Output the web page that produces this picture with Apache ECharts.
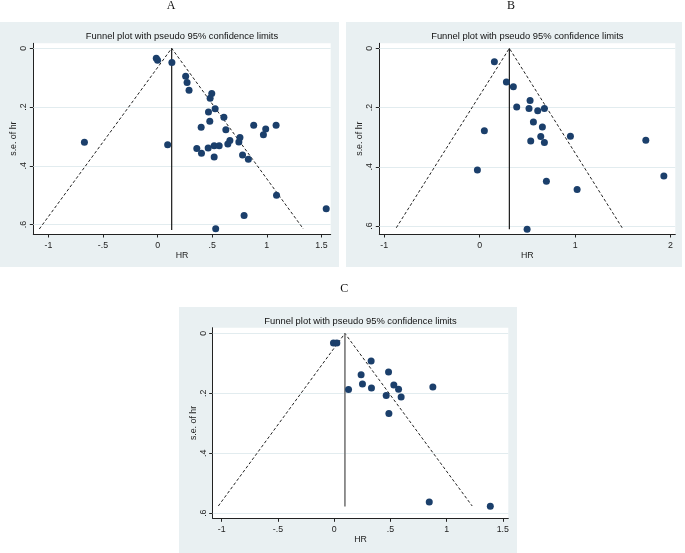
<!DOCTYPE html>
<html>
<head>
<meta charset="utf-8">
<script src="https://cdn.jsdelivr.net/npm/echarts@6/dist/echarts.min.js"></script>
<style>
  html, body { margin: 0; padding: 0; background: #ffffff; }
  #wrap { position: relative; width: 685px; height: 553px; overflow: hidden; }
  .panel { position: absolute; background: #e9f0f2; }
  #chart { position: absolute; left: 0; top: 0; width: 685px; height: 553px; }
</style>
</head>
<body>
<div id="wrap">
  <div class="panel" style="left:0px;top:22px;width:339px;height:245px;"></div>
  <div class="panel" style="left:346px;top:22px;width:336px;height:245px;"></div>
  <div class="panel" style="left:179px;top:307px;width:338px;height:246px;"></div>
  <div id="chart"></div>
</div>
<script>
// ---------- data ----------
const panelLabels = ['A', 'B', 'C'];
const plotTitle = 'Funnel plot with pseudo 95% confidence limits';
const xAxisName = 'HR';
const yAxisName = 's.e. of hr';

const xTicksA = [-1, -0.5, 0, 0.5, 1, 1.5];
const xTicksB = [-1, 0, 1, 2];
const xTicksC = [-1, -0.5, 0, 0.5, 1, 1.5];
const yTicks = [0, 0.2, 0.4, 0.6];

// Panel A study estimates
const hrA = [-0.012, 0.000, 0.131, 0.257, 0.270, 0.288, 0.496, 0.481, 0.527, 0.466,
             0.607, 0.478, 0.399, 0.625, 0.880, 1.085, 0.990, 0.969, 0.754, 0.744,
             0.662, 0.643, -0.670, 0.092, 0.518, 0.564, 0.359, 0.463, 0.402, 0.518,
             0.778, 0.831, 1.089, 1.544, 0.792, 0.532];
const seA = [0.034, 0.041, 0.048, 0.095, 0.116, 0.143, 0.154, 0.170, 0.206, 0.217,
             0.235, 0.248, 0.269, 0.277, 0.262, 0.262, 0.275, 0.294, 0.304, 0.319,
             0.314, 0.326, 0.320, 0.328, 0.332, 0.332, 0.341, 0.339, 0.357, 0.370,
             0.363, 0.378, 0.500, 0.546, 0.569, 0.614];

// Panel B study estimates
const hrB = [0.154, 0.280, 0.353, 0.528, 0.388, 0.517, 0.678, 0.608, 0.563, 0.657,
             0.049, 0.640, 0.951, 0.535, 0.678, 1.741, -0.024, 1.930, 0.699, 1.021, 0.497];
const seB = [0.045, 0.114, 0.130, 0.176, 0.198, 0.203, 0.203, 0.211, 0.249, 0.266,
             0.278, 0.298, 0.297, 0.313, 0.318, 0.310, 0.411, 0.431, 0.449, 0.477, 0.611];

// Panel C study estimates
const hrC = [-0.006, 0.024, 0.329, 0.484, 0.240, 0.531, 0.252, 0.332, 0.128, 0.878,
             0.573, 0.463, 0.596, 0.487, 0.846, 1.389];
const seC = [0.032, 0.032, 0.092, 0.129, 0.138, 0.172, 0.169, 0.182, 0.187, 0.179,
             0.186, 0.207, 0.212, 0.267, 0.563, 0.577];

// Funnel: [lower limit at max se, pooled HR, upper limit at max se, max se, end of pooled line]
const funnelA = [-1.083, 0.129, 1.335, 0.615, 0.618];
const funnelB = [-0.874, 0.311, 1.493, 0.606, 0.611];
const funnelC = [-1.030, 0.096, 1.228, 0.576, 0.578];

// ---------- layout ----------
const grids = [
  { left: 33.3, top: 43.3, width: 297.4, height: 190.7, xmin: -1.138, xmax: 1.585, ymin: -0.017, ymax: 0.632 },
  { left: 379.3, top: 43.3, width: 296, height: 190.7, xmin: -1.052, xmax: 2.05, ymin: -0.017, ymax: 0.627 },
  { left: 212.7, top: 327.7, width: 295.6, height: 190.6, xmin: -1.080, xmax: 1.549, ymin: -0.019, ymax: 0.617 }
];
const labelPos = [[171, 6], [511, 6], [344.3, 289.3]];
const titleY = [36.7, 36.7, 321.7];
const panels = [
  { hr: hrA, se: seA, funnel: funnelA, xTicks: xTicksA, vColor: '#1a1a1a', vWidth: 1.2 },
  { hr: hrB, se: seB, funnel: funnelB, xTicks: xTicksB, vColor: '#1a1a1a', vWidth: 1.2 },
  { hr: hrC, se: seC, funnel: funnelC, xTicks: xTicksC, vColor: '#777777', vWidth: 1.6 }
];

function fmt(v) {
  if (Math.abs(v) < 1e-9) return '0';
  let s = String(+v.toFixed(2));
  return s.replace(/^(-?)0\./, '$1.');
}

const FONT = 'Liberation Sans, Arial, sans-serif';
const option = {
  animation: false,
  backgroundColor: 'transparent',
  grid: [], xAxis: [], yAxis: [], series: [], graphic: []
};

panels.forEach((p, i) => {
  const g = grids[i];
  option.grid.push({
    left: g.left, top: g.top, width: g.width, height: g.height,
    show: true, backgroundColor: '#ffffff', borderWidth: 0
  });
  option.xAxis.push({
    type: 'value', gridIndex: i, min: g.xmin, max: g.xmax,
    name: xAxisName, nameLocation: 'middle', nameGap: 13,
    nameTextStyle: { fontFamily: FONT, fontSize: 8.8, color: '#222' },
    axisLine: { show: true, onZero: false, lineStyle: { color: '#222', width: 1 } },
    axisTick: { show: true, length: 3.5, customValues: p.xTicks, lineStyle: { color: '#222' } },
    axisLabel: { customValues: p.xTicks, formatter: fmt, fontFamily: FONT, fontSize: 8.8, color: '#222', margin: 7 },
    splitLine: { show: false }
  });
  option.yAxis.push({
    type: 'value', gridIndex: i, min: g.ymin, max: g.ymax, inverse: true,
    name: yAxisName, nameLocation: 'middle', nameGap: 13, nameRotate: 90,
    nameTextStyle: { fontFamily: FONT, fontSize: 8.8, color: '#222' },
    axisLine: { show: true, onZero: false, lineStyle: { color: '#222', width: 1 } },
    axisTick: { show: true, length: 3.5, customValues: yTicks, lineStyle: { color: '#222' } },
    axisLabel: { customValues: yTicks, formatter: fmt, rotate: 90, fontFamily: FONT, fontSize: 8.8, color: '#222', margin: 5 },
    splitLine: { show: false }
  });
  // horizontal gridlines
  option.series.push({
    type: 'line', xAxisIndex: i, yAxisIndex: i, data: [], z: 1, silent: true,
    markLine: {
      z: 1, silent: true, symbol: ['none', 'none'], label: { show: false },
      lineStyle: { color: '#e2ecef', type: 'solid', width: 1.2 },
      emphasis: { disabled: true },
      data: yTicks.map(v => ({ yAxis: v }))
    }
  });
  const f = p.funnel;
  // pseudo 95% confidence limits
  option.series.push({
    type: 'line', xAxisIndex: i, yAxisIndex: i, z: 2, silent: true,
    symbol: 'none', data: [[f[0], f[3]], [f[1], 0], [f[2], f[3]]],
    lineStyle: { color: '#222', width: 1, type: [3, 2.2] }
  });
  // pooled estimate line
  option.series.push({
    type: 'line', xAxisIndex: i, yAxisIndex: i, z: 3, silent: true,
    symbol: 'none', data: [[f[1], 0], [f[1], f[4]]],
    lineStyle: { color: p.vColor, width: p.vWidth, type: 'solid' }
  });
  // studies
  option.series.push({
    type: 'scatter', xAxisIndex: i, yAxisIndex: i, z: 10,
    symbol: 'circle', symbolSize: 7,
    itemStyle: { color: '#1b3f6b', opacity: 1 },
    data: p.hr.map((x, k) => [x, p.se[k]])
  });
  // panel label
  option.graphic.push({
    type: 'text', x: labelPos[i][0], y: labelPos[i][1],
    style: { text: panelLabels[i], fill: '#111', font: '12px "Liberation Serif", "Times New Roman", serif', align: 'center', verticalAlign: 'middle' }
  });
  // plot title
  option.graphic.push({
    type: 'text', x: g.left + g.width / 2, y: titleY[i],
    style: { text: plotTitle, fill: '#111', font: '9.4px "Liberation Sans", Arial, sans-serif', align: 'center', verticalAlign: 'middle' }
  });
});

const chart = echarts.init(document.getElementById('chart'), null, { renderer: 'canvas' });
chart.setOption(option);
</script>
</body>
</html>
